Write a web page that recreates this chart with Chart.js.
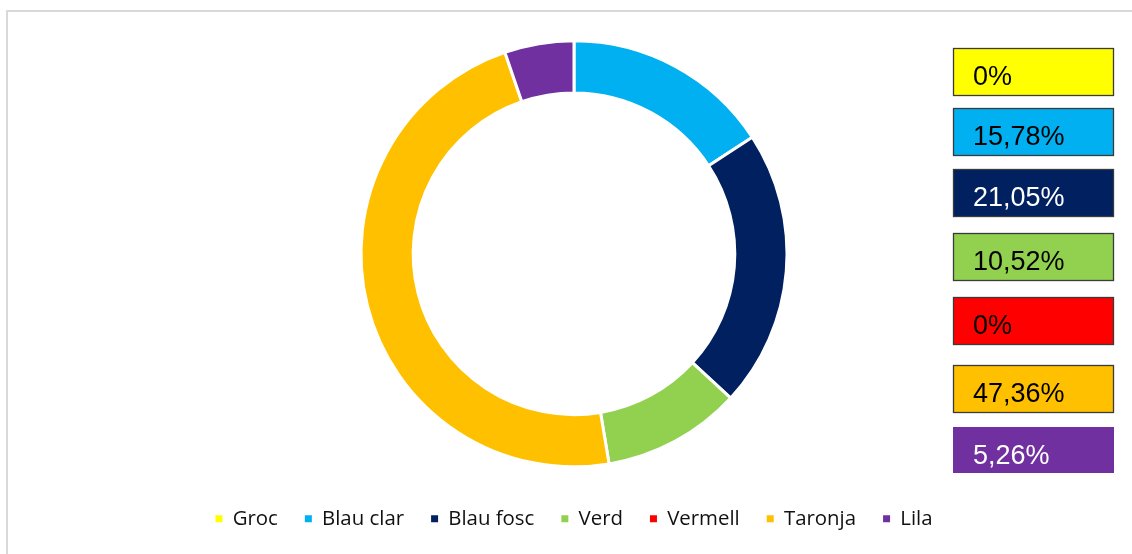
<!DOCTYPE html>
<html>
<head>
<meta charset="utf-8">
<script src="https://cdn.jsdelivr.net/npm/chart.js@4/dist/chart.umd.min.js"></script>
<style>
  html, body { margin: 0; padding: 0; background: #ffffff; }
  #wrap { position: relative; width: 1132px; height: 554px; }
</style>
</head>
<body>
<div id="wrap"><canvas id="c" width="1132" height="554"></canvas></div>
<script>
// ---- data ----
const categories = ['Groc', 'Blau clar', 'Blau fosc', 'Verd', 'Vermell', 'Taronja', 'Lila'];
const values = [0, 15.78, 21.05, 10.52, 0, 47.36, 5.26];
const valueLabels = ['0%', '15,78%', '21,05%', '10,52%', '0%', '47,36%', '5,26%'];

// ---- styles ----
const colors = ['#FFFF00', '#00B0F0', '#002060', '#92D050', '#FF0000', '#FFC000', '#7030A0'];
const labelTextColors = ['#000000', '#000000', '#ffffff', '#000000', '#000000', '#000000', '#ffffff'];
const labelBorders = [true, true, true, true, true, true, false];
const labelBoxTops = [48, 108, 169, 233, 297, 365, 427];
const labelBoxHeights = [48, 48, 48, 48, 48, 48, 46];
const labelBoxLeft = 953;
const labelBoxWidth = 161;

const framePlugin = {
  id: 'frame',
  beforeDraw(chart) {
    const ctx = chart.ctx;
    ctx.save();
    ctx.strokeStyle = '#d9d9d9';
    ctx.lineWidth = 2;
    ctx.strokeRect(7, 11, 1300, 800);
    ctx.restore();
  }
};

const valueBoxesPlugin = {
  id: 'valueBoxes',
  afterDraw(chart) {
    const ctx = chart.ctx;
    ctx.save();
    valueLabels.forEach((txt, i) => {
      const top = labelBoxTops[i], h = labelBoxHeights[i];
      ctx.fillStyle = colors[i];
      ctx.fillRect(labelBoxLeft, top, labelBoxWidth, h);
      if (labelBorders[i]) {
        ctx.strokeStyle = '#3a3a3a';
        ctx.lineWidth = 1.3;
        ctx.strokeRect(labelBoxLeft + 0.5, top + 0.5, labelBoxWidth - 1, h - 1);
      }
      ctx.fillStyle = labelTextColors[i];
      ctx.font = '27px "Liberation Sans", Arial, sans-serif';
      ctx.textAlign = 'left';
      ctx.textBaseline = 'alphabetic';
      ctx.fillText(txt, labelBoxLeft + 20, top + 37);
    });
    ctx.restore();
  }
};

new Chart(document.getElementById('c'), {
  type: 'doughnut',
  data: {
    labels: categories,
    datasets: [{
      data: values,
      backgroundColor: colors,
      borderColor: '#ffffff',
      borderWidth: 3,
      hoverOffset: 0
    }]
  },
  options: {
    responsive: false,
    animation: false,
    radius: 213,
    cutout: '75.5%',
    layout: { padding: { left: 17, right: 1, top: 26, bottom: 15 } },
    plugins: {
      tooltip: { enabled: false },
      legend: {
        display: true,
        position: 'bottom',
        labels: {
          boxWidth: 7,
          boxHeight: 7,
          padding: 27,
          color: '#111111',
          font: { family: '"Open Sans", "Noto Sans", sans-serif', size: 20.4 },
          generateLabels(chart) {
            const items = Chart.overrides.doughnut.plugins.legend.labels.generateLabels(chart);
            return items.map(it => Object.assign(it, { lineWidth: 0, strokeStyle: it.fillStyle }));
          }
        }
      }
    }
  },
  plugins: [framePlugin, valueBoxesPlugin]
});
</script>
</body>
</html>
